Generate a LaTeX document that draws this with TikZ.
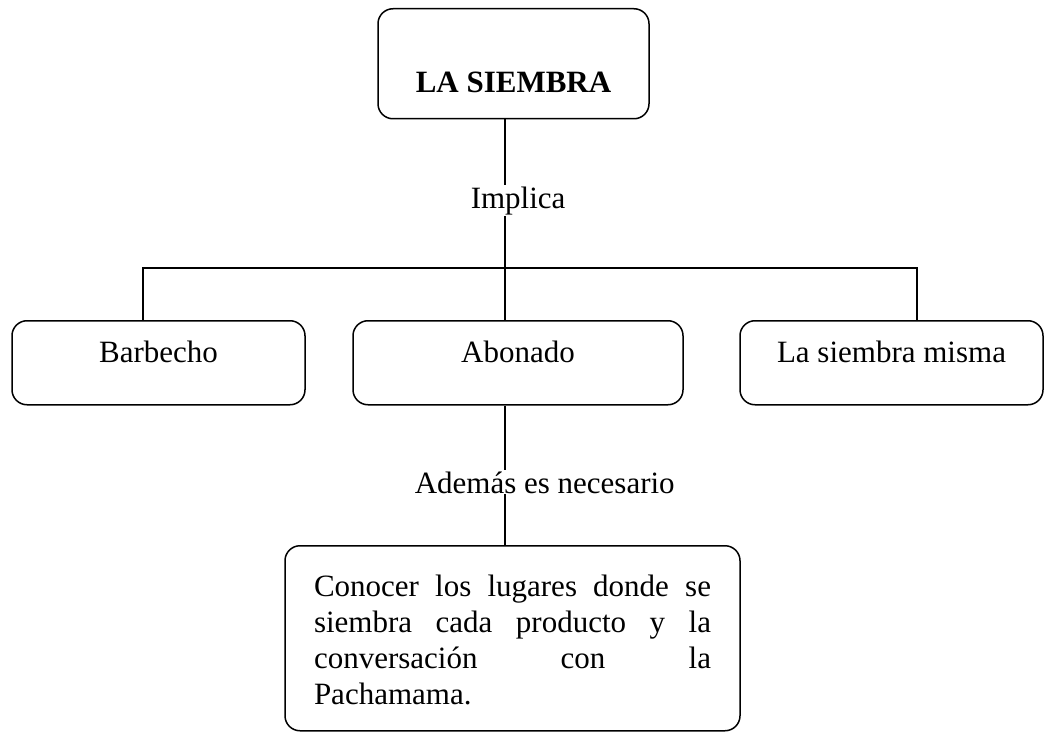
\documentclass[tikz,border=0pt]{standalone}
\usepackage{fontspec}
\setmainfont{Liberation Serif}
\usepackage{tikz}
\tikzset{
  mapbox/.style={draw, rounded corners=15pt, inner sep=0pt, anchor=north},
  rowbox/.style={mapbox, text height=42pt, text depth=42pt},
  linkword/.style={fill=white, inner sep=1pt, anchor=base west},
}
\hbadness=10000

\begin{document}
\begin{tikzpicture}[x=1pt, y=-1pt, line width=1.5pt, font=\fontsize{31}{36}\selectfont]
    \useasboundingbox (0, 0) rectangle (1045, 733);

    \node [mapbox, minimum width=271pt, text height=84pt, text depth=26pt] (siembra) at (513.5, 8) {\textbf{LA SIEMBRA}};

    \node [rowbox, minimum width=293pt] (barbecho) at (158.5, 320) {Barbecho};
    \node [rowbox, minimum width=330pt] (abonado) at (518, 320) {Abonado};
    \node [rowbox, minimum width=303pt] (misma) at (891.5, 320) {La siembra misma};

    \node [mapbox, text width=397pt, align=justify, inner xsep=29pt, text height=51pt, text depth=134pt] (pacha) at (512.5, 545)
      {Conocer los lugares donde se\linebreak siembra cada producto y la\linebreak conversación con la\linebreak Pachamama.};

    \coordinate (hub) at (505, 268);
    \coordinate (branchl) at (143, 268);
    \coordinate (branchr) at (917, 268);

    \draw (siembra.south -| hub) -- (hub);
    \draw (barbecho.north -| branchl) -- (branchl) -- (branchr) -- (misma.north -| branchr);
    \draw (hub) -- (abonado.north -| hub);
    \draw (abonado.south -| hub) -- (pacha.north -| hub);

    \node [linkword] (implica) at (469, 208) {Implica};
    \node [linkword] (ademas) at (413, 493) {Además es necesario};
  \end{tikzpicture}
\end{document}
